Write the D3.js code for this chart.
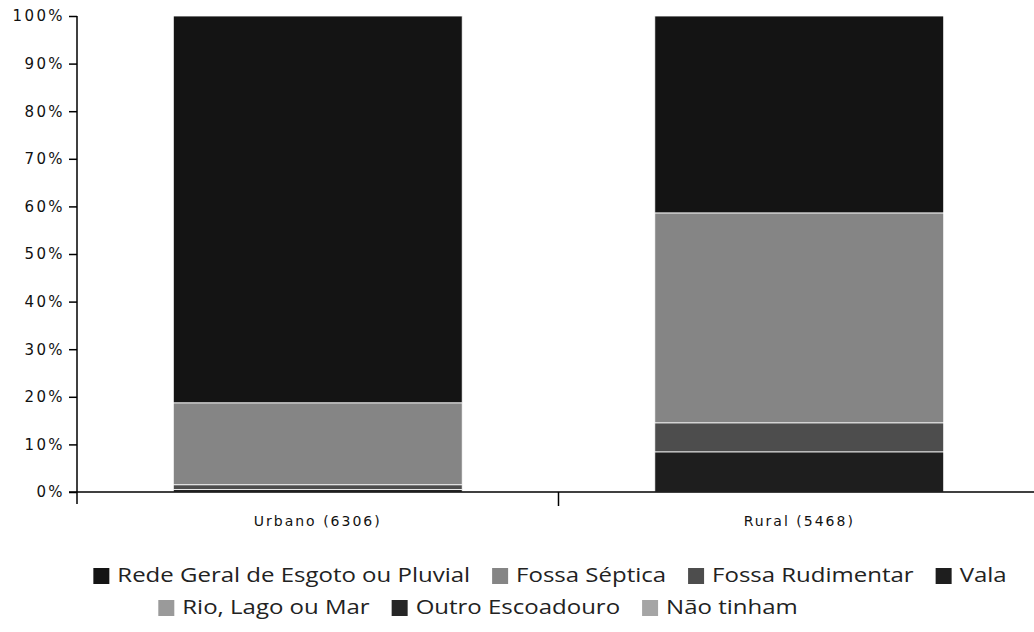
<!DOCTYPE html>
<html>
<head>
<meta charset="utf-8">
<script src="https://cdn.jsdelivr.net/npm/d3@7"></script>
<style>
  body { margin: 0; background: #fff; }
  svg { display: block; }
</style>
</head>
<body>
<svg id="chart" width="1034" height="632"></svg>
<script>
// Categories and series (percent of households)
const categories = ["Urbano (6306)", "Rural (5468)"];
const seriesNames = ["Rede Geral de Esgoto ou Pluvial", "Fossa Séptica", "Fossa Rudimentar", "Vala",
                     "Rio, Lago ou Mar", "Outro Escoadouro", "Não tinham"];
const redeGeral       = [81.3, 41.4];
const fossaSeptica    = [17.2, 44.1];
const fossaRudimentar = [1.0, 6.1];
const vala            = [0.5, 8.4];
const rioLagoMar      = [0, 0];
const outroEscoadouro = [0, 0];
const naoTinham       = [0, 0];
const yTicks = [0, 10, 20, 30, 40, 50, 60, 70, 80, 90, 100];

// grey tones as they appear in the (monochrome) picture
const colors = ["#141414", "#858585", "#4d4d4d", "#1e1e1e", "#9a9a9a", "#262626", "#a5a5a5"];

const allSeries = [redeGeral, fossaSeptica, fossaRudimentar, vala, rioLagoMar, outroEscoadouro, naoTinham];
const table = categories.map((c, i) => {
    let row = {cat: c};
    seriesNames.forEach((s, j) => row[s] = allSeries[j][i]);
    return row;
});

const svg = d3.select("#chart");
const margin = {top: 16, left: 77};
const plotBottom = 492;

let x = d3.scaleBand()
    .domain(categories)
    .range([margin.left, 1040])
    .paddingInner(0.4)
    .paddingOuter(0.2);

let y = d3.scaleLinear()
    .domain([0, 100])
    .range([plotBottom, margin.top]);

let color = d3.scaleOrdinal().domain(seriesNames).range(colors);

// first series on top of the stack
let stacked = d3.stack()
    .keys(seriesNames)
    .order(d3.stackOrderReverse)(table);

// bars
svg.append("g").selectAll("g")
    .data(stacked)
    .join("g")
    .attr("fill", d => color(d.key))
    .selectAll("rect")
    .data(d => d)
    .join("rect")
    .attr("x", d => x(d.data.cat))
    .attr("y", d => y(d[1]))
    .attr("width", x.bandwidth())
    .attr("height", d => Math.max(0, y(d[0]) - y(d[1])))
    .attr("stroke", "#fff")
    .attr("stroke-width", 0.8);

// y axis
let yAxis = svg.append("g")
    .attr("transform", "translate(" + margin.left + ",0)")
    .call(d3.axisLeft(y).tickValues(yTicks).tickFormat(d => d + "%").tickSize(8).tickPadding(4));
yAxis.select(".domain").attr("stroke", "#000").attr("stroke-width", 1.5)
    .attr("d", "M0," + margin.top + "V" + (plotBottom + 12));
yAxis.selectAll(".tick line").attr("stroke", "#000").attr("stroke-width", 1.5);
yAxis.selectAll("text")
    .style("font-family", "DejaVu Sans, Verdana, sans-serif")
    .style("font-size", "15px")
    .style("letter-spacing", "2.4px")
    .attr("fill", "#111");

// x axis: line plus ticks at band edges
let xAxis = svg.append("g");
xAxis.append("line")
    .attr("x1", margin.left - 8).attr("x2", 1034)
    .attr("y1", plotBottom).attr("y2", plotBottom)
    .attr("stroke", "#000").attr("stroke-width", 1.5);
xAxis.selectAll(".edge")
    .data(categories.slice(1))
    .join("line")
    .attr("class", "edge")
    .attr("x1", d => x(d) - x.step() * x.paddingInner() / 2)
    .attr("x2", d => x(d) - x.step() * x.paddingInner() / 2)
    .attr("y1", plotBottom).attr("y2", plotBottom + 14)
    .attr("stroke", "#000").attr("stroke-width", 1.5);
xAxis.selectAll(".lab")
    .data(categories)
    .join("text")
    .attr("class", "lab")
    .attr("x", d => x(d) + x.bandwidth() / 2)
    .attr("y", plotBottom + 34)
    .attr("text-anchor", "middle")
    .style("font-family", "DejaVu Sans, Verdana, sans-serif")
    .style("font-size", "14px")
    .style("letter-spacing", "2px")
    .attr("fill", "#111")
    .text(d => d);

// legend, two centred rows (text is a little stretched in the picture)
const legendRows = [seriesNames.slice(0, 4), seriesNames.slice(4)];
const rowCenters = [550, 478];
const rowY = [582, 614];
const stretch = 1.2;
const itemGap = 22;
legendRows.forEach((names, r) => {
    let g = svg.append("g");
    let items = g.selectAll("g").data(names).join("g");
    items.append("rect")
        .attr("width", 16).attr("height", 16)
        .attr("y", -14)
        .attr("fill", d => color(d));
    items.append("text")
        .attr("x", 0)
        .attr("y", 0)
        .attr("transform", "translate(24,0) scale(" + stretch + ",1)")
        .style("font-family", "Open Sans, sans-serif")
        .style("font-size", "20px")
        .attr("fill", "#222")
        .text(d => d);
    let pos = 0;
    items.each(function() {
        d3.select(this).attr("transform", "translate(" + pos + ",0)");
        pos += 24 + d3.select(this).select("text").node().getComputedTextLength() * stretch + itemGap;
    });
    pos -= itemGap;
    g.attr("transform", "translate(" + (rowCenters[r] - pos / 2) + "," + rowY[r] + ")");
});
</script>
</body>
</html>
